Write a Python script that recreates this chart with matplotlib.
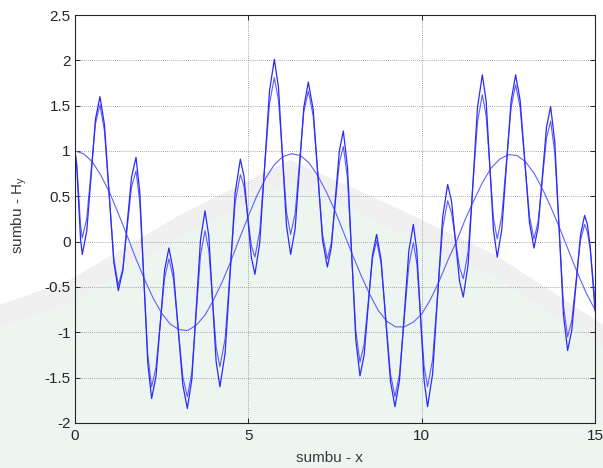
import matplotlib
matplotlib.use("Agg")
import matplotlib.pyplot as plt
from matplotlib.patches import Polygon

plt.rcParams['font.family'] = ['Liberation Sans', 'DejaVu Sans']

# titik-titik yang dibaca dari gambar (puncak, lembah dan titik antara)
x_osc = [0.00, 0.05, 0.105, 0.16,
         0.21, 0.34, 0.465, 0.59,
         0.72, 0.85, 0.985, 1.12,
         1.25, 1.38, 1.505, 1.63,
         1.76, 1.87, 1.985, 2.10,
         2.21, 2.335, 2.46, 2.585,
         2.71, 2.84, 2.975, 3.11,
         3.24, 3.37, 3.495, 3.62,
         3.75, 3.86, 3.965, 4.07,
         4.18, 4.33, 4.475, 4.62,
         4.77, 4.875, 4.98, 5.085,
         5.19, 5.33, 5.47, 5.61,
         5.75, 5.87, 5.985, 6.10,
         6.22, 6.35, 6.475, 6.60,
         6.73, 6.87, 7.005, 7.14,
         7.28, 7.395, 7.51, 7.625,
         7.74, 7.86, 7.98, 8.10,
         8.22, 8.34, 8.46, 8.58,
         8.70, 8.83, 8.965, 9.10,
         9.23, 9.36, 9.495, 9.63,
         9.76, 9.86, 9.965, 10.07,
         10.17, 10.315, 10.46, 10.605,
         10.75, 10.86, 10.975, 11.09,
         11.20, 11.34, 11.475, 11.61,
         11.75, 11.86, 11.965, 12.07,
         12.18, 12.31, 12.445, 12.58,
         12.71, 12.84, 12.975, 13.11,
         13.24, 13.36, 13.48, 13.60,
         13.72, 13.84, 13.965, 14.09,
         14.21, 14.33, 14.455, 14.58,
         14.70, 14.78, 14.86, 14.93,
         15.00]

hy_a = [1.00, 0.83, 0.43, 0.03,
        -0.14, 0.12, 0.73, 1.35,
        1.60, 1.29, 0.53, -0.23,
        -0.54, -0.32, 0.20, 0.71,
        0.93, 0.54, -0.40, -1.34,
        -1.73, -1.49, -0.90, -0.31,
        -0.07, -0.33, -0.96, -1.58,
        -1.84, -1.52, -0.75, 0.02,
        0.34, 0.06, -0.63, -1.32,
        -1.60, -1.23, -0.35, 0.54,
        0.91, 0.72, 0.28, -0.17,
        -0.36, -0.01, 0.83, 1.66,
        2.01, 1.70, 0.94, 0.18,
        -0.14, 0.14, 0.81, 1.48,
        1.76, 1.46, 0.74, 0.02,
        -0.28, -0.06, 0.47, 1.00,
        1.22, 0.82, -0.13, -1.08,
        -1.48, -1.25, -0.70, -0.15,
        0.08, -0.20, -0.87, -1.54,
        -1.82, -1.53, -0.82, -0.10,
        0.19, -0.10, -0.82, -1.53,
        -1.82, -1.46, -0.60, 0.27,
        0.63, 0.45, 0.01, -0.43,
        -0.61, -0.25, 0.62, 1.48,
        1.84, 1.55, 0.84, 0.13,
        -0.17, 0.13, 0.84, 1.55,
        1.84, 1.56, 0.89, 0.21,
        -0.07, 0.16, 0.71, 1.26,
        1.49, 1.10, 0.15, -0.81,
        -1.20, -0.98, -0.46, 0.07,
        0.29, 0.19, -0.05, -0.40,
        -0.76]

hy_b = [1.00, 0.86, 0.52, 0.18,
        0.04, 0.26, 0.78, 1.30,
        1.51, 1.22, 0.52, -0.19,
        -0.48, -0.30, 0.15, 0.60,
        0.78, 0.43, -0.41, -1.25,
        -1.60, -1.39, -0.90, -0.40,
        -0.19, -0.41, -0.95, -1.49,
        -1.71, -1.44, -0.80, -0.15,
        0.12, -0.10, -0.63, -1.16,
        -1.38, -1.07, -0.32, 0.43,
        0.74, 0.61, 0.29, -0.04,
        -0.17, 0.12, 0.82, 1.52,
        1.81, 1.56, 0.95, 0.33,
        0.08, 0.31, 0.87, 1.43,
        1.66, 1.39, 0.74, 0.08,
        -0.19, -0.01, 0.43, 0.87,
        1.05, 0.70, -0.14, -0.98,
        -1.33, -1.13, -0.66, -0.19,
        0.01, -0.24, -0.85, -1.46,
        -1.71, -1.46, -0.86, -0.26,
        -0.01, -0.24, -0.81, -1.37,
        -1.60, -1.30, -0.58, 0.15,
        0.45, 0.32, 0.02, -0.28,
        -0.41, -0.11, 0.61, 1.32,
        1.62, 1.39, 0.83, 0.26,
        0.03, 0.28, 0.88, 1.48,
        1.73, 1.48, 0.88, 0.28,
        0.03, 0.22, 0.68, 1.14,
        1.33, 0.98, 0.14, -0.70,
        -1.05, -0.87, -0.43, 0.01,
        0.19, 0.11, -0.08, -0.36,
        -0.65]

# kurva lambat (gelombang datang)
x_cos = [0, 0.25, 0.5, 0.75, 1, 1.25, 1.5, 1.75, 2, 2.25, 2.5, 2.75,
         3, 3.25, 3.5, 3.75, 4, 4.25, 4.5, 4.75, 5, 5.25, 5.5, 5.75,
         6, 6.25, 6.5, 6.75, 7, 7.25, 7.5, 7.75, 8, 8.25, 8.5, 8.75,
         9, 9.25, 9.5, 9.75, 10, 10.25, 10.5, 10.75, 11, 11.25, 11.5, 11.75,
         12, 12.25, 12.5, 12.75, 13, 13.25, 13.5, 13.75, 14, 14.25, 14.5, 14.75, 15]
hy_cos = [1.00, 0.97, 0.88, 0.73, 0.54, 0.31, 0.07, -0.18, -0.41, -0.62, -0.79, -0.91,
          -0.97, -0.98, -0.92, -0.81, -0.64, -0.44, -0.21, 0.04, 0.28, 0.51, 0.70, 0.85,
          0.94, 0.97, 0.95, 0.87, 0.73, 0.55, 0.34, 0.10, -0.14, -0.37, -0.58, -0.76,
          -0.88, -0.94, -0.94, -0.89, -0.80, -0.64, -0.44, -0.21, 0.00, 0.24, 0.45, 0.65,
          0.81, 0.91, 0.96, 0.95, 0.88, 0.75, 0.57, 0.36, 0.13, -0.11, -0.35, -0.57, -0.75]

x_ticks = [0, 5, 10, 15]
y_ticks = [-2, -1.5, -1, -0.5, 0, 0.5, 1, 1.5, 2, 2.5]
y_ticklabels = ['-2', '-1.5', '-1', '-0.5', '0', '0.5', '1', '1.5', '2', '2.5']

fig = plt.figure(figsize=(6.03, 4.68), dpi=100)
fig.patch.set_facecolor('white')

# watermark samar di latar belakang
arc = [(0, 305), (70, 280), (180, 215), (290, 160), (390, 205), (495, 255), (603, 325)]
green = arc + [(603, 468), (0, 468)]
fig.add_artist(Polygon([(px / 603, 1 - py / 468) for px, py in green], closed=True,
                       transform=fig.transFigure, facecolor='#edf5f0', edgecolor='none', zorder=-10))
fig.add_artist(Polygon([(px / 603, 1 - py / 468) for px, py in arc] +
                       [(px / 603, 1 - (py + 22) / 468) for px, py in arc[::-1]], closed=True,
                       transform=fig.transFigure, facecolor='#f0f0f0', edgecolor='none', zorder=-9))

ax = fig.add_axes([75 / 603, 1 - 423 / 468, 520 / 603, 408 / 468])
ax.set_facecolor('none')

ax.plot(x_cos, hy_cos, color='#6060ff', lw=0.8)
ax.plot(x_osc, hy_b, color='#5a5aff', lw=0.8)
ax.plot(x_osc, hy_a, color='#2a2aff', lw=0.9)

ax.set_xlim(0, 15)
ax.set_ylim(-2, 2.5)
ax.set_xticks(x_ticks)
ax.set_yticks(y_ticks)
ax.set_yticklabels(y_ticklabels)
ax.grid(True, color='#8c8c8c', linestyle=(0, (1, 1.5)), lw=0.6)
ax.tick_params(direction='in', length=3.5, width=0.7, colors='#262626', labelsize=11,
               top=True, right=True)
ax.tick_params(axis='x', pad=4)
ax.tick_params(axis='y', pad=3)
for s in ax.spines.values():
    s.set_color('#262626')
    s.set_linewidth(0.8)

ax.set_xlabel('sumbu - x', fontsize=11, color='#3a3a3a')
ax.set_ylabel('sumbu - H$\\mathregular{_y}$', fontsize=11, color='#3a3a3a')
ax.xaxis.set_label_coords(0.49, -0.068)
ax.yaxis.set_label_coords(-0.088, 0.51)

fig.savefig('out.png', dpi=100)
